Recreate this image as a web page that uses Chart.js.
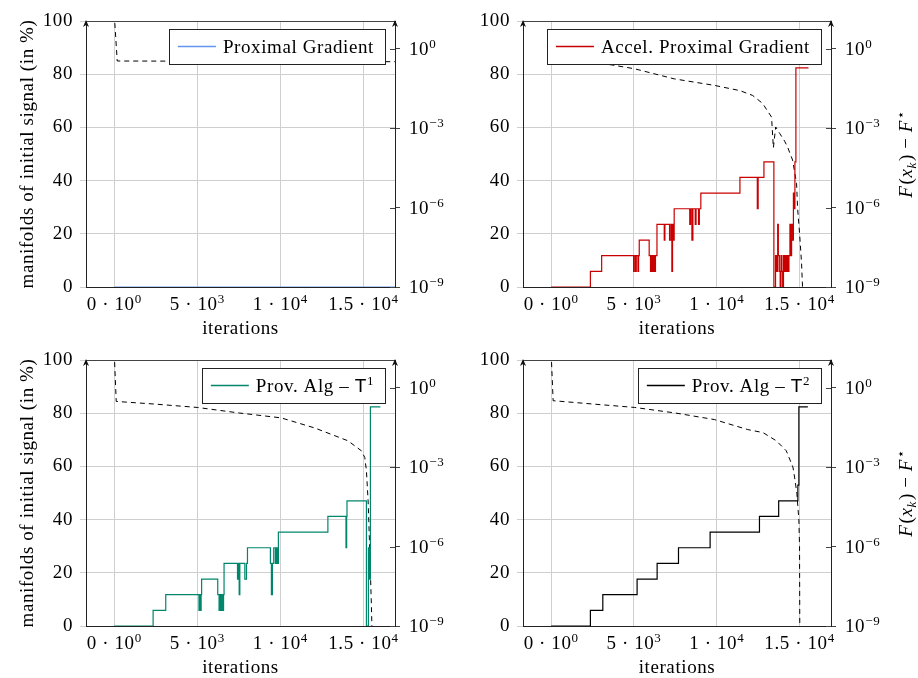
<!DOCTYPE html>
<html>
<head>
<meta charset="utf-8">
<script src="https://cdn.jsdelivr.net/npm/chart.js@4.4.0/dist/chart.umd.min.js"></script>
<style>
body { margin: 0; background: #fff; }
#wrap { position: relative; width: 918px; height: 678px; }
canvas { position: absolute; }
</style>
</head>
<body>
<div id="wrap">
  <canvas id="c0" width="459" height="339" style="left:0;top:0"></canvas>
  <canvas id="c1" width="459" height="339" style="left:459px;top:0"></canvas>
  <canvas id="c2" width="459" height="339" style="left:0;top:339px"></canvas>
  <canvas id="c3" width="459" height="339" style="left:459px;top:339px"></canvas>
</div>
<script>
// axis ticks (labels as mantissa part + exponent)
const iterTicks = [0, 5000, 10000, 15000];
const iterTickBase = ['0 · 10', '5 · 10', '1 · 10', '1.5 · 10'];
const iterTickExp = ['0', '3', '4', '4'];
const manifTicks = [0, 20, 40, 60, 80, 100];
const gapTicks = [1e-9, 1e-6, 1e-3, 1];
const gapTickExp = ['−9', '−6', '−3', '0'];

// Proximal Gradient
const pgIter = [0, 17000];
const pgManif = [0, 0];
const pgGapIter = [0, 180, 17000];
const pgGap = [20, 0.34, 0.32];

// Accel. Proximal Gradient
const apgIter = [0, 2370, 3050, 4980, 5020, 5100, 5140, 5240, 5280, 5320, 5920, 6000, 6060, 6130, 6180, 6250, 6300, 6390,
  6830, 6870, 7150, 7230, 7290, 7330, 7380, 7430, 8370, 8420, 8500, 8560, 8700, 8750, 8900, 8950, 9040, 11400, 12450, 12500,
  12850, 13450, 13550, 13620, 13680, 13720, 13780, 13830, 13880, 13930, 13980, 14030, 14080, 14130, 14180, 14240, 14300,
  14360, 14420, 14470, 14520, 14580, 14630, 14680, 14720, 14780, 15540];
const apgManif = [0, 5.88, 11.76, 5.88, 11.76, 5.88, 11.76, 5.88, 11.76, 17.65, 11.76, 5.88, 11.76, 5.88, 11.76, 5.88, 11.76, 23.53,
  17.65, 23.53, 17.65, 23.53, 5.88, 23.53, 17.65, 29.41, 23.53, 29.41, 17.65, 29.41, 23.53, 29.41, 23.53, 29.41, 35.29, 41.18, 29.41, 41.18,
  47.06, 0, 11.76, 5.88, 23.53, 11.76, 5.88, 0, 11.76, 5.88, 0, 11.76, 5.88, 11.76, 5.88, 11.76, 5.88,
  11.76, 23.53, 11.76, 23.53, 17.65, 35.29, 29.41, 47.06, 82.35, 82.35];
const apgGapIter = [0, 150, 3600, 5020, 7430, 9840, 11390, 12170, 12770, 13310, 13420, 13560, 13800, 14100, 14280, 14580,
  14820, 14880, 15000, 15120, 15180, 15220];
const apgGap = [3, 0.34, 0.245, 0.174, 0.072, 0.041, 0.026, 0.017, 0.0085, 0.0026, 1.8e-4, 1.1e-3, 6.3e-4, 3.2e-4, 1.9e-4, 6.2e-5,
  8.3e-6, 1.0e-6, 1.1e-7, 8.3e-9, 1e-9, 1e-10];

// Prov. Alg - T1
const t1Iter = [0, 2340, 3100, 5100, 5150, 5200, 5230, 5260, 6230, 6310, 6350, 6420, 6470, 6540, 6580, 6610, 7420, 7480, 7520,
  7560, 7860, 7960, 8020, 9400, 9460, 9520, 9600, 9700, 9760, 9820, 9880, 12860, 13950, 13990, 14010, 15180, 15300, 15360,
  15420, 16020];
const t1Manif = [0, 5.88, 11.76, 5.88, 11.76, 5.88, 11.76, 17.65, 11.76, 5.88, 11.76, 5.88, 11.76, 5.88, 11.76, 23.53, 17.65, 23.53, 11.76,
  23.53, 17.65, 23.53, 29.41, 23.53, 11.76, 23.53, 29.41, 23.53, 29.41, 23.53, 35.29, 41.18, 29.41, 41.18, 47.06, 0, 29.41, 17.65,
  82.35, 82.35];
const t1GapIter = [0, 120, 2380, 5000, 7520, 10040, 12060, 14070, 14880, 15080, 15180, 15280, 15380, 15480, 15520];
const t1Gap = [20, 0.30, 0.24, 0.178, 0.11, 0.072, 0.030, 0.0098, 0.0041, 0.0023, 7.4e-4, 5.6e-5, 7.6e-7, 5.8e-9, 5e-10];

// Prov. Alg - T2
const t2Iter = [0, 2370, 3120, 5190, 6400, 7690, 9600, 12580, 13740, 14900, 14960, 15500];
const t2Manif = [0, 5.88, 11.76, 17.65, 23.53, 29.41, 35.29, 41.18, 47.06, 52.94, 82.35, 82.35];
const t2GapIter = [0, 120, 2500, 5040, 7500, 9860, 11870, 12790, 13600, 14200, 14600, 14700, 14840, 14960, 15000, 15020];
const t2Gap = [20, 0.32, 0.24, 0.178, 0.11, 0.062, 0.026, 0.02, 0.0098, 0.0041, 1e-3, 4.2e-4, 1e-4, 1e-5, 1e-6, 1e-10];

const SERIF = '"Liberation Serif", "DejaVu Serif", serif';
const FS = 19;
const SPACING = '0.6px';

function pts(xs, ys) {
  return xs.map((x, i) => ({ x: x, y: ys[i] }));
}

// draws text made of pieces (italic, sans, sup, sub); returns width
function rich(ctx, segs, x, y, draw) {
  let cx = x;
  for (const s of segs) {
    const size = (s.sup || s.sub) ? 13 : FS;
    const fam = s.sans ? '"Liberation Sans", "DejaVu Sans", sans-serif' : SERIF;
    ctx.font = (s.it ? 'italic ' : '') + size + 'px ' + fam;
    const dy = s.sup ? -7 : (s.sub ? 4 : 0);
    if (draw) ctx.fillText(s.t, cx, y + dy);
    cx += ctx.measureText(s.t).width + (s.after || 0);
  }
  return cx - x;
}

const decor = {
  id: 'decor',
  beforeDraw(chart) {
    chart.ctx.letterSpacing = SPACING;
  },
  afterDraw(chart, args, o) {
    const ctx = chart.ctx;
    const a = chart.chartArea;
    ctx.save();
    ctx.letterSpacing = SPACING;
    ctx.strokeStyle = '#444';
    ctx.lineWidth = 1;
    ctx.beginPath();
    ctx.moveTo(a.left, a.top + 0.5);
    ctx.lineTo(a.right, a.top + 0.5);
    ctx.stroke();
    // arrow tips on both vertical axes
    ctx.fillStyle = '#111';
    for (const x of [a.left, a.right]) {
      ctx.beginPath();
      ctx.moveTo(x, a.top - 1);
      ctx.lineTo(x - 3, a.top + 6);
      ctx.lineTo(x, a.top + 4);
      ctx.lineTo(x + 3, a.top + 6);
      ctx.closePath();
      ctx.fill();
    }
    // inner tick marks of right axis
    const y1 = chart.scales.y1;
    const xs = chart.scales.x;
    ctx.strokeStyle = '#444';
    gapTicks.forEach(v => {
      const py = Math.round(y1.getPixelForValue(v)) + 0.5;
      ctx.beginPath();
      ctx.moveTo(a.right - 5, py);
      ctx.lineTo(a.right, py);
      ctx.stroke();
    });

    ctx.textBaseline = 'alphabetic';
    ctx.textAlign = 'left';
    ctx.fillStyle = '#000';
    // x tick labels
    iterTicks.forEach((v, i) => {
      const segs = [{ t: iterTickBase[i] }, { t: iterTickExp[i], sup: true }];
      const w = rich(ctx, segs, 0, 0, false);
      rich(ctx, segs, xs.getPixelForValue(v) - w / 2, a.bottom + 23, true);
    });
    // right axis tick labels
    gapTicks.forEach((v, i) => {
      const segs = [{ t: '10' }, { t: gapTickExp[i], sup: true }];
      rich(ctx, segs, a.right + 14, y1.getPixelForValue(v) + 6, true);
    });

    // legend
    const tw = rich(ctx, o.label, 0, 0, false);
    const bw = 9 + 38 + 7 + tw + 11;
    const bh = 35;
    const bx = a.right - 10 - bw;
    const by = a.top + 8;
    ctx.fillStyle = '#fff';
    ctx.fillRect(bx, by, bw, bh);
    ctx.strokeStyle = '#222';
    ctx.strokeRect(Math.round(bx) + 0.5, by + 0.5, Math.round(bw), bh);
    ctx.strokeStyle = o.color;
    ctx.lineWidth = 1.3;
    ctx.beginPath();
    ctx.moveTo(bx + 9, by + bh / 2);
    ctx.lineTo(bx + 47, by + bh / 2);
    ctx.stroke();
    ctx.fillStyle = '#000';
    rich(ctx, o.label, bx + 54, by + bh / 2 + 6, true);

    // right axis title
    if (o.rightTitle) {
      const t = [
        { t: 'F', it: true, after: 1 }, { t: '(' }, { t: 'x', it: true }, { t: 'k', it: true, sub: true, after: 1 }, { t: ')' },
        { t: ' − ' }, { t: 'F', it: true, after: 1 }, { t: '⋆', sup: true }
      ];
      const w = rich(ctx, t, 0, 0, false);
      ctx.translate(chart.width - 6, (a.top + a.bottom) / 2);
      ctx.rotate(-Math.PI / 2);
      rich(ctx, t, -w / 2, 0, true);
    }
    ctx.restore();
  }
};

function makeChart(id, iters, manif, gapIters, gap, color, label, col) {
  const left = col === 0;
  new Chart(document.getElementById(id), {
    type: 'line',
    data: {
      datasets: [
        {
          data: pts(iters, manif),
          yAxisID: 'y',
          borderColor: color,
          borderWidth: 1.2,
          stepped: 'before',
          pointRadius: 0
        },
        {
          data: pts(gapIters, gap),
          yAxisID: 'y1',
          borderColor: '#000',
          borderWidth: 1,
          borderDash: [5, 4],
          pointRadius: 0
        }
      ]
    },
    options: {
      responsive: false,
      animation: false,
      events: [],
      layout: { padding: { top: 21, left: 0, right: 0, bottom: 0 } },
      plugins: {
        legend: { display: false },
        tooltip: { enabled: false },
        decor: { label: label, color: color, rightTitle: !left }
      },
      scales: {
        x: {
          type: 'linear',
          min: -1700,
          max: 16900,
          afterBuildTicks: s => { s.ticks = iterTicks.map(v => ({ value: v })); },
          afterFit: s => { s.height = 52; },
          ticks: { display: false },
          grid: { color: '#cfcfcf', drawTicks: false },
          border: { color: '#222' },
          title: {
            display: true,
            text: 'iterations',
            color: '#000',
            font: { family: SERIF, size: FS, lineHeight: 1 },
            padding: 0
          }
        },
        y: {
          position: 'left',
          min: 0,
          max: 100,
          afterBuildTicks: s => { s.ticks = manifTicks.map(v => ({ value: v })); },
          afterFit: s => { s.width = left ? 86 : 64; },
          ticks: {
            color: '#000',
            font: { family: SERIF, size: FS },
            padding: 7
          },
          grid: { color: '#cfcfcf', tickLength: 6 },
          border: { color: '#222' },
          title: {
            display: left,
            text: 'manifolds of initial signal (in %)',
            color: '#000',
            font: { family: SERIF, size: FS, lineHeight: 1 },
            padding: { top: 19, bottom: 0 }
          }
        },
        y1: {
          type: 'logarithmic',
          position: 'right',
          min: 1e-9,
          max: 11,
          afterBuildTicks: s => { s.ticks = gapTicks.map(v => ({ value: v })); },
          afterFit: s => { s.width = left ? 64 : 87; },
          ticks: { display: false },
          grid: { drawOnChartArea: false, color: '#444', tickLength: 5 },
          border: { color: '#222' }
        }
      }
    },
    plugins: [decor]
  });
}

makeChart('c0', pgIter, pgManif, pgGapIter, pgGap, '#6495ed', [{ t: 'Proximal Gradient' }], 0);
makeChart('c1', apgIter, apgManif, apgGapIter, apgGap, '#c80000', [{ t: 'Accel. Proximal Gradient' }], 1);
makeChart('c2', t1Iter, t1Manif, t1GapIter, t1Gap, '#00876b',
  [{ t: 'Prov. Alg – ' }, { t: 'T', sans: true }, { t: '1', sup: true }], 0);
makeChart('c3', t2Iter, t2Manif, t2GapIter, t2Gap, '#000000',
  [{ t: 'Prov. Alg – ' }, { t: 'T', sans: true }, { t: '2', sup: true }], 1);
</script>
</body>
</html>
